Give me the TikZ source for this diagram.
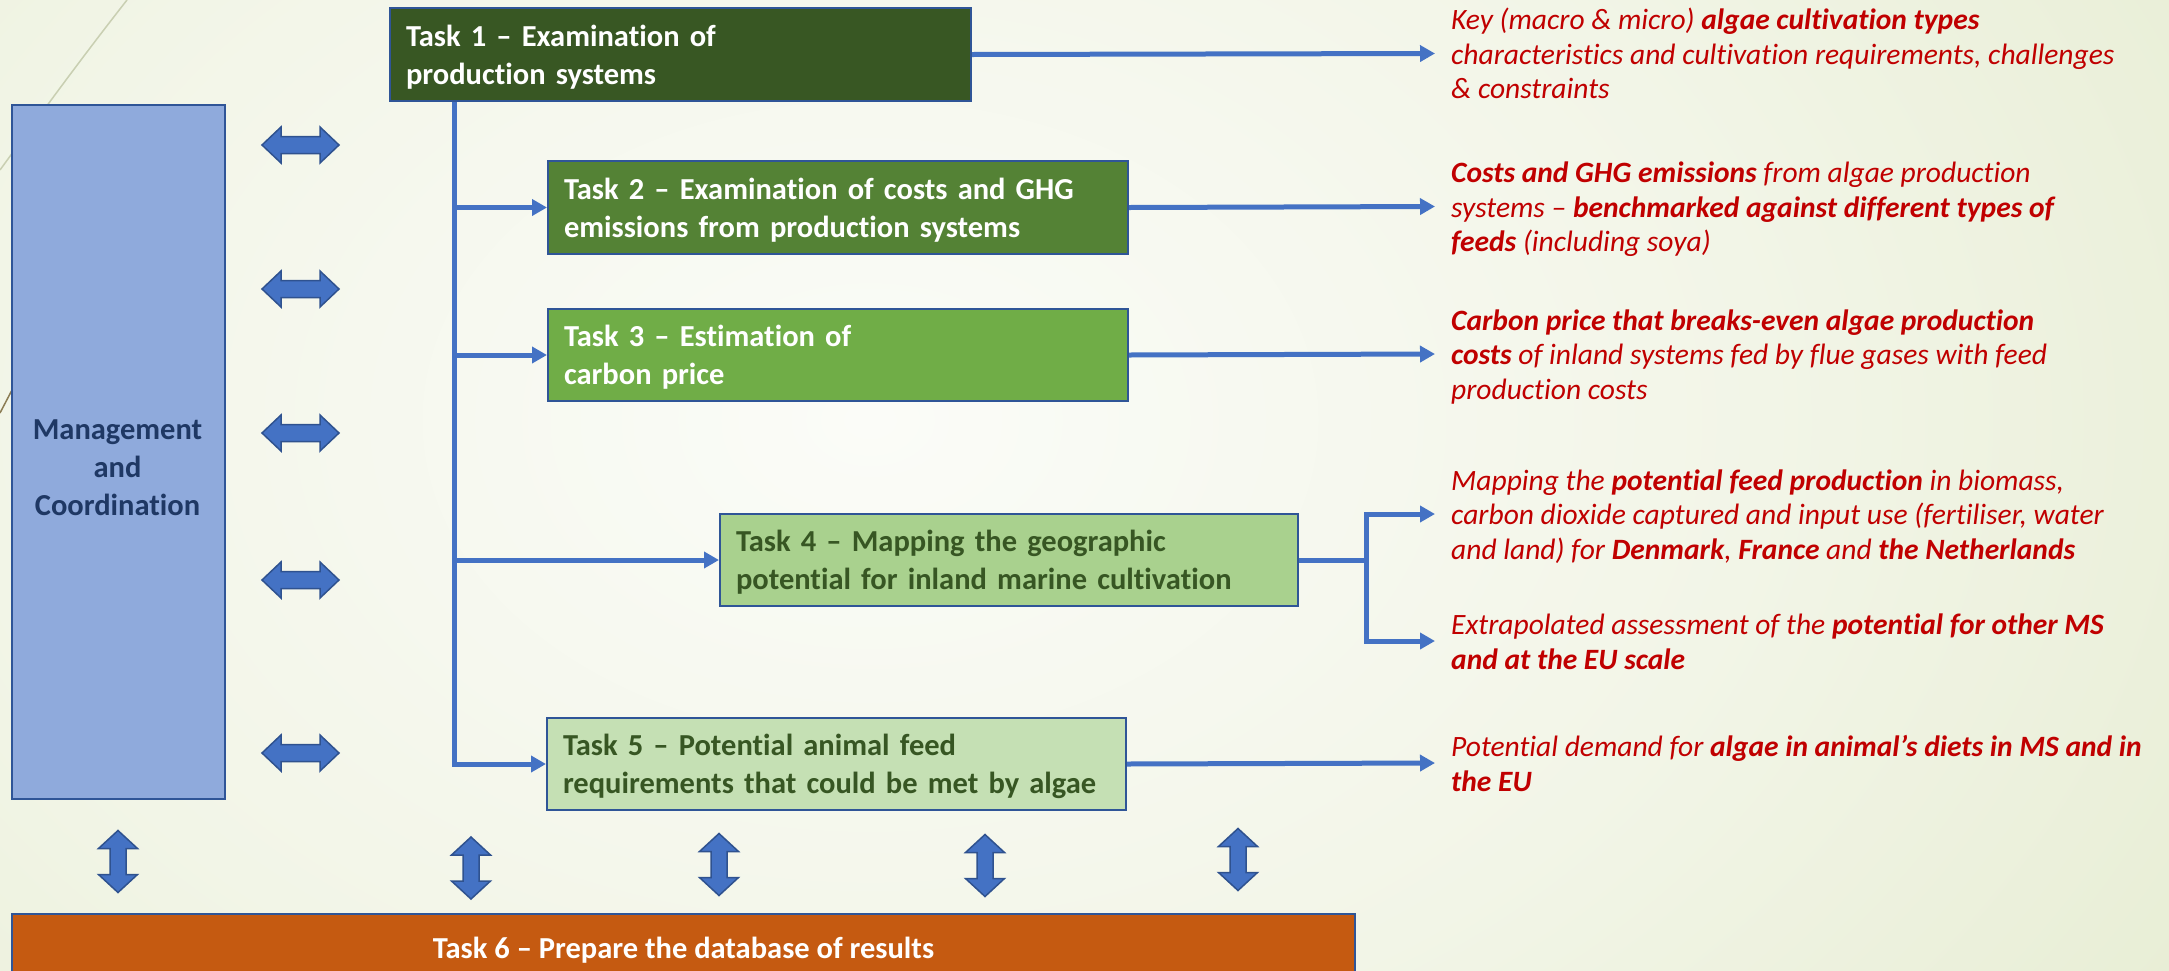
\documentclass[tikz,border=0pt]{standalone}
\usepackage{fontspec}
\setmainfont{Carlito}[Ligatures=NoCommon]
\usetikzlibrary{arrows.meta}
\definecolor{bgin}{HTML}{FBFCF8}
\definecolor{bgmid}{HTML}{F2F5E7}
\definecolor{bgout}{HTML}{D4E0B2}
\definecolor{boxline}{HTML}{2F5597}
\definecolor{linkblue}{HTML}{4472C4}
\definecolor{arrowedge}{HTML}{2F528F}
\definecolor{tonecolor}{HTML}{385723}
\definecolor{ttwocolor}{HTML}{548235}
\definecolor{tthreecolor}{HTML}{70AD47}
\definecolor{tfourcolor}{HTML}{A9D18E}
\definecolor{tfivecolor}{HTML}{C5E0B4}
\definecolor{tsixcolor}{HTML}{C55A11}
\definecolor{mgcolor}{HTML}{8FAADC}
\definecolor{mgtext}{HTML}{1F3864}
\definecolor{darkgreentext}{HTML}{375623}
\definecolor{redtext}{HTML}{C00000}
\definecolor{decoline}{HTML}{C9CFB2}
\definecolor{decobrown}{HTML}{8C7D55}
\pgfdeclareradialshading{bgshade}{\pgfpoint{0bp}{0bp}}{color(0bp)=(bgin); color(16bp)=(bgmid); color(50bp)=(bgout); color(75bp)=(bgout)}
\newcommand\myboxfont{\fontsize{30.5}{38}\selectfont\bfseries\hyphenpenalty=10000\exhyphenpenalty=10000}
\newcommand\myoutfont{\fontsize{29.5}{34.5}\selectfont\itshape\hyphenpenalty=10000}
\newcommand\boxtop{\rule{0pt}{28pt}}
\newcommand\boxbot{\rule[-7pt]{0pt}{7pt}}
\newcommand\outtop{\rule{0pt}{32pt}}
\tikzset{
  taskbox/.style={rectangle, draw=boxline, line width=2pt, inner xsep=16pt, inner ysep=0pt,
    align=left, font=\myboxfont, anchor=north west},
  conn/.style={draw=linkblue, line width=5pt},
  tip/.style={-{Triangle[length=15pt,width=16pt]}},
  outtext/.style={anchor=west, inner xsep=16pt, inner ysep=0pt, align=left, text=redtext, font=\myoutfont},
  blockarrow/.style={fill=linkblue, draw=arrowedge, line width=1.5pt, line join=miter},
  harrowpic/.pic={\path[blockarrow] (-38.5,0) -- (-19.5,-18) -- (-19.5,-8.5) -- (19.5,-8.5) -- (19.5,-18) -- (38.5,0)
      -- (19.5,18) -- (19.5,8.5) -- (-19.5,8.5) -- (-19.5,18) -- cycle;},
  varrowpic/.pic={\path[blockarrow] (0,-31) -- (19.5,-13) -- (8,-13) -- (8,13) -- (19.5,13) -- (0,31)
      -- (-19.5,13) -- (-8,13) -- (-8,-13) -- (-19.5,-13) -- cycle;}
}
\begin{document}
\begin{tikzpicture}[x=1pt,y=-1pt]
\useasboundingbox (0,0) rectangle (2169,970);
\clip (0,0) rectangle (2169,970);
% background
\shade[shading=bgshade] (-530,-580) rectangle (2270,1420);
\draw[decoline, line width=1.5pt] (127,0) .. controls (80,60) and (40,115) .. (0,170);
\draw[decobrown, line width=1.5pt] (12,390) -- (0,413);

% management
\node[rectangle, draw=boxline, line width=2pt, fill=mgcolor, minimum width=213pt, minimum height=694pt,
  anchor=north west, inner sep=0pt] (mg) at (11,104) {};
\node[align=center, text=mgtext, font=\myboxfont, inner sep=0pt] (mgt) at (117.5,468) {Management\\and\\Coordination};

% tasks
\node[taskbox, fill=tonecolor, text=white, minimum height=93pt, text width=549pt] (t1) at (389,7)
  {\boxtop Task 1 – Examination of\\production systems\boxbot};
\node[taskbox, fill=ttwocolor, text=white, minimum height=93pt, text width=548pt] (t2) at (547,160)
  {\boxtop Task 2 – Examination of costs and GHG\\emissions from production systems\boxbot};
\node[taskbox, fill=tthreecolor, text=white, minimum height=92pt, text width=548pt] (t3) at (547,308)
  {\boxtop Task 3 – Estimation of\\carbon price\boxbot};
\node[taskbox, fill=tfourcolor, text=darkgreentext, minimum height=92pt, text width=546pt] (t4) at (719,513)
  {\boxtop Task 4 – Mapping the geographic\\potential for inland marine cultivation\boxbot};
\node[taskbox, fill=tfivecolor, text=darkgreentext, minimum height=92pt, text width=547pt] (t5) at (546,717)
  {\boxtop Task 5 – Potential animal feed\\requirements that could be met by algae\boxbot};
\node[rectangle, draw=boxline, line width=2pt, fill=tsixcolor, text=white, font=\myboxfont,
  minimum width=1343pt, minimum height=67pt, anchor=north west, inner sep=0pt] (t6) at (11,913)
  {\boxtop Task 6 – Prepare the database of results\boxbot};

% outputs
\node[outtext] (r1) at (1435,53.5) {\outtop Key (macro \& micro) \textbf{algae cultivation types}\\characteristics and cultivation requirements, challenges\\\& constraints\strut};
\node[outtext] (r2) at (1435,206.5) {\outtop\textbf{Costs and GHG emissions} from algae production\\systems – \textbf{benchmarked against different types of}\\\textbf{feeds} (including soya)\strut};
\node[outtext] (r3) at (1435,354) {\outtop\textbf{Carbon price that breaks-even algae production}\\\textbf{costs} of inland systems fed by flue gases with feed\\production costs\strut};
\node[outtext] (r4) at (1435,514) {\outtop Mapping the \textbf{potential feed production} in biomass,\\carbon dioxide captured and input use (fertiliser, water\\and land) for \textbf{Denmark}, \textbf{France} and \textbf{the Netherlands}\strut};
\node[outtext] (r5) at (1435,641) {\outtop Extrapolated assessment of the \textbf{potential for other MS}\\\textbf{and at the EU scale}\strut};
\node[outtext] (r6) at (1435,763) {\outtop Potential demand for \textbf{algae in animal’s diets in MS and in}\\\textbf{the EU}\strut};

% connectors
\coordinate (tk) at (454,0);
\coordinate (bx) at (1366,0);
\draw[conn, tip] (tk |- t1.south) -- (tk |- t5.west) -- (t5.west);
\draw[conn, tip] (tk |- t2.west) -- (t2.west);
\draw[conn, tip] (tk |- t3.west) -- (t3.west);
\draw[conn, tip] (tk |- t4.west) -- (t4.west);
\draw[conn, tip] (t1.east) -- (r1.west);
\draw[conn, tip] (t2.east) -- (r2.west);
\draw[conn, tip] (t3.east) -- (r3.west);
\draw[conn] (t4.east) -- (bx |- t4.east);
\draw[conn, tip] (bx |- t4.east) |- (r4.west);
\draw[conn, tip] (bx |- t4.east) |- (r5.west);
\draw[conn, tip] (t5.east) -- (r6.west);

% block arrows
\pic (ha1) at (300.5,145) {harrowpic};
\pic (ha2) at (300.5,289) {harrowpic};
\pic (ha3) at (300.5,433) {harrowpic};
\pic (ha4) at (300.5,580) {harrowpic};
\pic (ha5) at (300.5,753) {harrowpic};
\pic (va1) at (118,861.5) {varrowpic};
\pic (va2) at (471,868) {varrowpic};
\pic (va3) at (719,864.5) {varrowpic};
\pic (va4) at (985,865.5) {varrowpic};
\pic (va5) at (1238,859.5) {varrowpic};
\end{tikzpicture}
\end{document}
